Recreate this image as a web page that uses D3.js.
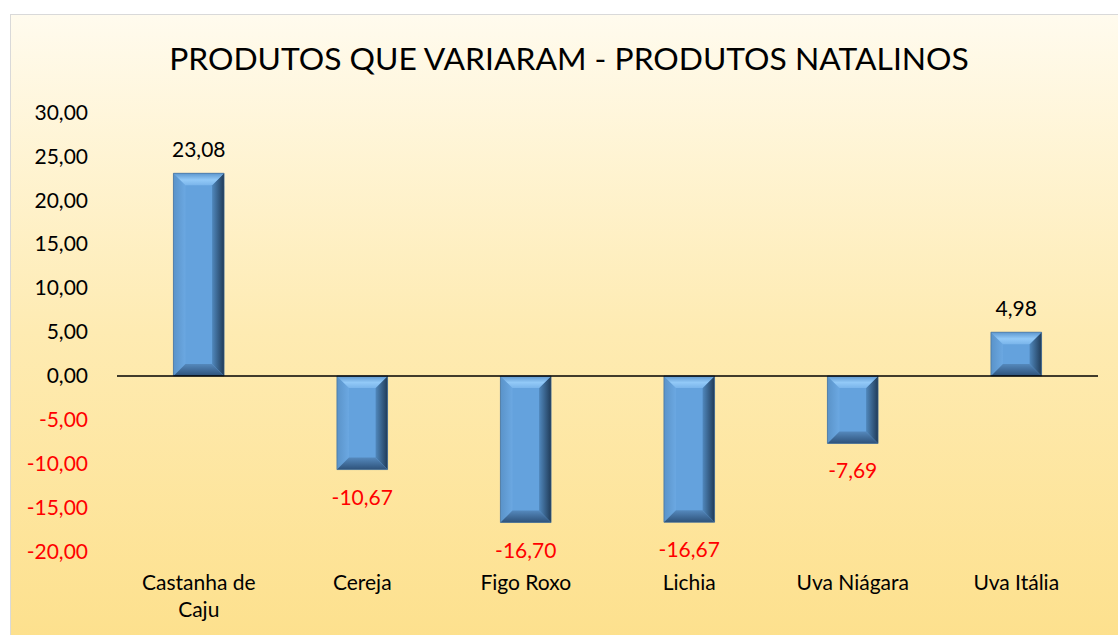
<!DOCTYPE html>
<html>
<head>
<meta charset="utf-8">
<script src="https://cdn.jsdelivr.net/npm/d3@7"></script>
<style>
  body { margin: 0; background: #fff; }
  svg { display: block; font-family: Lato, "Open Sans", sans-serif; }
</style>
</head>
<body>
<svg id="chart" width="1118" height="635"></svg>
<script>
var categories = ["Castanha de Caju", "Cereja", "Figo Roxo", "Lichia", "Uva Niágara", "Uva Itália"];
var values = [23.08, -10.67, -16.70, -16.67, -7.69, 4.98];
var tickValues = [30, 25, 20, 15, 10, 5, 0, -5, -10, -15, -20];
var title = "PRODUTOS QUE VARIARAM - PRODUTOS NATALINOS";

var ptBR = d3.formatLocale({decimal: ",", thousands: ".", grouping: [3], currency: ["R$", ""], minus: "-"});
var fmt = ptBR.format(".2f");

var svg = d3.select("#chart"),
    width = +svg.attr("width"),
    height = +svg.attr("height");

var defs = svg.append("defs");
// chart background, cream at the top going to yellow
var bg = defs.append("linearGradient").attr("id", "bg").attr("x1", 0).attr("y1", 0).attr("x2", 0).attr("y2", 1);
bg.append("stop").attr("offset", "0%").attr("stop-color", "#fffbee");
bg.append("stop").attr("offset", "50%").attr("stop-color", "#feebb2");
bg.append("stop").attr("offset", "100%").attr("stop-color", "#fde08c");

// bevel faces
var gTop = defs.append("linearGradient").attr("id", "bvTop").attr("x1", 0).attr("y1", 0).attr("x2", 0).attr("y2", 1);
gTop.append("stop").attr("offset", "0%").attr("stop-color", "#5d97cf");
gTop.append("stop").attr("offset", "55%").attr("stop-color", "#92c9f7");
gTop.append("stop").attr("offset", "100%").attr("stop-color", "#7ab5eb");
var gRight = defs.append("linearGradient").attr("id", "bvRight").attr("x1", 0).attr("y1", 0).attr("x2", 1).attr("y2", 0);
gRight.append("stop").attr("offset", "0%").attr("stop-color", "#5088bd");
gRight.append("stop").attr("offset", "100%").attr("stop-color", "#203b58");
var gBot = defs.append("linearGradient").attr("id", "bvBot").attr("x1", 0).attr("y1", 0).attr("x2", 0).attr("y2", 1);
gBot.append("stop").attr("offset", "0%").attr("stop-color", "#5589bd");
gBot.append("stop").attr("offset", "100%").attr("stop-color", "#2e527a");
var gLeft = defs.append("linearGradient").attr("id", "bvLeft").attr("x1", 0).attr("y1", 0).attr("x2", 1).attr("y2", 0);
gLeft.append("stop").attr("offset", "0%").attr("stop-color", "#5a93c9");
gLeft.append("stop").attr("offset", "100%").attr("stop-color", "#6ba8e2");

svg.append("rect")
    .attr("x", 10.5).attr("y", 14.5)
    .attr("width", width).attr("height", height)
    .attr("fill", "url(#bg)")
    .attr("stroke", "#d9d9d9");

svg.append("text")
    .attr("x", 569).attr("y", 70)
    .attr("text-anchor", "middle")
    .style("font-size", "31.8px")
    .text(title);

var x = d3.scaleBand()
    .domain(categories)
    .range([117, 1098])
    .paddingInner(0.69)
    .paddingOuter(0.345);

var y = d3.scaleLinear()
    .domain([-20, 30])
    .range([551.5, 112.5]);

// y axis: labels only
var yAxis = svg.append("g")
    .attr("transform", "translate(88,0)")
    .call(d3.axisLeft(y).tickValues(tickValues).tickSize(0).tickPadding(0).tickFormat(fmt));
yAxis.select(".domain").remove();
yAxis.selectAll("text")
    .style("font-family", "Lato, sans-serif")
    .style("font-size", "21px")
    .attr("fill", function(d) { return d < 0 ? "#ff0000" : "#000"; });

var data = categories.map(function(c, i) { return {name: c, value: values[i]}; });

var bars = svg.selectAll("g.bar")
    .data(data)
    .enter().append("g")
    .attr("class", "bar");

function face(d, which) {
    var x0 = x(d.name), x1 = x0 + x.bandwidth();
    var y0 = Math.min(y(0), y(d.value)), y1 = Math.max(y(0), y(d.value));
    var b = Math.min(12, (x1 - x0) / 2, (y1 - y0) / 2);
    var p;
    if (which == "top") p = [[x0, y0], [x1, y0], [x1 - b, y0 + b], [x0 + b, y0 + b]];
    else if (which == "bottom") p = [[x0, y1], [x1, y1], [x1 - b, y1 - b], [x0 + b, y1 - b]];
    else if (which == "left") p = [[x0, y0], [x0 + b, y0 + b], [x0 + b, y1 - b], [x0, y1]];
    else if (which == "right") p = [[x1, y0], [x1, y1], [x1 - b, y1 - b], [x1 - b, y0 + b]];
    else p = [[x0, y0], [x1, y0], [x1, y1], [x0, y1]];
    return p.map(function(q) { return q.join(","); }).join(" ");
}

bars.append("polygon").attr("points", function(d) { return face(d, "base"); }).attr("fill", "#64a2dd");
bars.append("polygon").attr("points", function(d) { return face(d, "left"); }).attr("fill", "url(#bvLeft)");
bars.append("polygon").attr("points", function(d) { return face(d, "right"); }).attr("fill", "url(#bvRight)");
bars.append("polygon").attr("points", function(d) { return face(d, "bottom"); }).attr("fill", "url(#bvBot)");
bars.append("polygon").attr("points", function(d) { return face(d, "top"); }).attr("fill", "url(#bvTop)");
bars.append("polygon").attr("points", function(d) { return face(d, "base"); })
    .attr("fill", "none").attr("stroke", "#3d6690").attr("stroke-width", 1).attr("stroke-opacity", 0.6);

// zero line
svg.append("line")
    .attr("x1", x.range()[0]).attr("x2", x.range()[1])
    .attr("y1", y(0)).attr("y2", y(0))
    .attr("stroke", "#000").attr("stroke-width", 1.5);

// value labels
svg.selectAll("text.val")
    .data(data)
    .enter().append("text")
    .attr("class", "val")
    .attr("x", function(d) { return x(d.name) + x.bandwidth() / 2; })
    .attr("y", function(d) { return d.value >= 0 ? y(d.value) - 16 : y(d.value) + 35; })
    .attr("text-anchor", "middle")
    .attr("fill", function(d) { return d.value < 0 ? "#ff0000" : "#000"; })
    .style("font-size", "21px")
    .text(function(d) { return fmt(d.value); });

// category labels, wrapped like excel does
var catLines = {"Castanha de Caju": ["Castanha de", "Caju"]};
var cats = svg.selectAll("text.cat")
    .data(categories)
    .enter().append("text")
    .attr("class", "cat")
    .attr("text-anchor", "middle")
    .style("font-size", "21px");
cats.selectAll("tspan")
    .data(function(c) { return (catLines[c] || [c]).map(function(t) { return {c: c, t: t}; }); })
    .enter().append("tspan")
    .attr("x", function(d) { return x(d.c) + x.bandwidth() / 2; })
    .attr("y", function(d, i) { return 590 + i * 27; })
    .text(function(d) { return d.t; });
</script>
</body>
</html>
